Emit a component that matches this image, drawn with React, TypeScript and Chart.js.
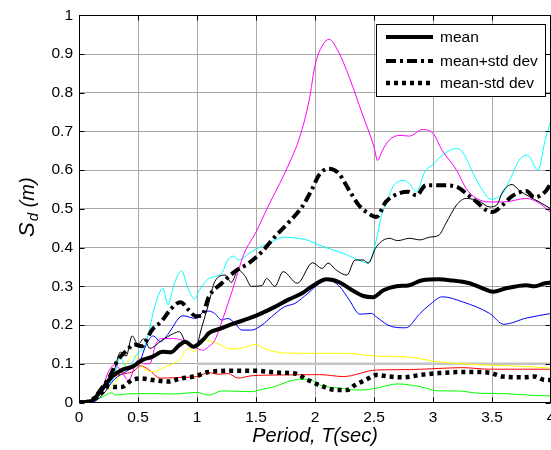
import { useEffect, useRef } from 'react';
import { Chart, registerables } from 'chart.js';

Chart.register(...registerables);

// Period (sec) / spectral displacement (m) pairs
const magentaRecord = [[0,0],[0.1,0.005],[0.2,0.04],[0.25,0.08],[0.3,0.097],[0.35,0.085],[0.42,0.057],[0.5,0.11],[0.55,0.1],[0.6,0.1],[0.65,0.15],[0.7,0.165],[0.8,0.165],[0.9,0.158],[1.0,0.14],[1.05,0.135],[1.1,0.145],[1.15,0.16],[1.2,0.2],[1.3,0.29],[1.4,0.385],[1.5,0.44],[1.6,0.505],[1.7,0.565],[1.77,0.61],[1.87,0.685],[1.95,0.78],[2.0,0.87],[2.05,0.915],[2.12,0.938],[2.2,0.905],[2.29,0.84],[2.4,0.746],[2.5,0.66],[2.53,0.625],[2.57,0.65],[2.63,0.678],[2.72,0.69],[2.8,0.688],[2.91,0.705],[3.0,0.695],[3.08,0.65],[3.2,0.6],[3.28,0.553],[3.37,0.527],[3.48,0.518],[3.6,0.518],[3.79,0.527],[3.9,0.515],[4.0,0.49]];
const cyanRecord = [[0,0],[0.1,0.005],[0.2,0.03],[0.3,0.07],[0.35,0.12],[0.38,0.1],[0.42,0.09],[0.48,0.12],[0.565,0.153],[0.65,0.256],[0.71,0.295],[0.755,0.252],[0.8,0.3],[0.87,0.34],[0.92,0.298],[0.98,0.267],[1.02,0.29],[1.1,0.32],[1.21,0.334],[1.26,0.368],[1.31,0.378],[1.35,0.368],[1.46,0.389],[1.63,0.415],[1.74,0.427],[1.83,0.425],[1.94,0.419],[2.04,0.406],[2.24,0.385],[2.41,0.363],[2.45,0.36],[2.52,0.42],[2.56,0.48],[2.61,0.52],[2.66,0.557],[2.75,0.574],[2.8,0.565],[2.86,0.544],[2.93,0.596],[3.0,0.615],[3.08,0.639],[3.2,0.656],[3.25,0.647],[3.34,0.592],[3.42,0.548],[3.49,0.525],[3.59,0.54],[3.65,0.574],[3.73,0.626],[3.8,0.639],[3.89,0.6],[3.95,0.677],[4.0,0.729]];
const blueRecord = [[0,0],[0.1,0.0],[0.2,0.02],[0.3,0.06],[0.42,0.084],[0.52,0.11],[0.57,0.15],[0.63,0.172],[0.69,0.157],[0.75,0.175],[0.88,0.224],[0.99,0.217],[1.06,0.235],[1.1,0.236],[1.15,0.23],[1.21,0.213],[1.26,0.217],[1.32,0.205],[1.38,0.187],[1.46,0.187],[1.55,0.2],[1.63,0.221],[1.74,0.247],[1.83,0.256],[1.94,0.282],[2.04,0.308],[2.11,0.316],[2.21,0.299],[2.29,0.265],[2.38,0.228],[2.48,0.23],[2.52,0.221],[2.65,0.196],[2.77,0.193],[2.89,0.23],[2.97,0.252],[3.08,0.273],[3.25,0.26],[3.48,0.23],[3.6,0.202],[3.79,0.218],[4.0,0.23]];
const blackRecord = [[0,0],[0.1,0.005],[0.2,0.04],[0.3,0.085],[0.35,0.13],[0.4,0.12],[0.45,0.172],[0.5,0.15],[0.55,0.165],[0.6,0.14],[0.7,0.16],[0.8,0.178],[0.85,0.183],[0.91,0.152],[0.99,0.145],[1.04,0.194],[1.1,0.256],[1.15,0.312],[1.24,0.329],[1.29,0.31],[1.35,0.342],[1.41,0.325],[1.46,0.3],[1.55,0.302],[1.59,0.32],[1.66,0.3],[1.73,0.338],[1.85,0.308],[1.98,0.361],[2.06,0.346],[2.11,0.36],[2.18,0.342],[2.27,0.329],[2.34,0.368],[2.41,0.368],[2.45,0.36],[2.52,0.402],[2.63,0.424],[2.7,0.418],[2.8,0.424],[2.89,0.42],[2.97,0.427],[3.05,0.432],[3.11,0.463],[3.2,0.51],[3.28,0.527],[3.39,0.52],[3.48,0.505],[3.54,0.51],[3.59,0.544],[3.67,0.563],[3.73,0.548],[3.82,0.531],[3.9,0.518],[4.0,0.5]];
const yellowRecord = [[0,0],[0.1,0.003],[0.2,0.02],[0.3,0.05],[0.35,0.07],[0.4,0.1],[0.46,0.12],[0.5,0.112],[0.565,0.084],[0.63,0.08],[0.73,0.092],[0.8,0.1],[0.85,0.11],[0.93,0.14],[0.98,0.131],[1.05,0.161],[1.15,0.155],[1.29,0.138],[1.41,0.143],[1.49,0.15],[1.58,0.138],[1.74,0.128],[2.04,0.127],[2.24,0.127],[2.52,0.12],[2.8,0.117],[3.05,0.105],[3.42,0.097],[3.7,0.094],[4.0,0.089]];
const redRecord = [[0,0],[0.1,0.003],[0.2,0.03],[0.3,0.067],[0.4,0.075],[0.46,0.08],[0.52,0.095],[0.59,0.085],[0.69,0.063],[0.8,0.064],[0.9,0.065],[1.0,0.067],[1.1,0.077],[1.18,0.073],[1.26,0.075],[1.35,0.063],[1.46,0.069],[1.7,0.071],[2.04,0.072],[2.24,0.067],[2.52,0.084],[2.8,0.085],[3.05,0.088],[3.25,0.09],[3.48,0.086],[4.0,0.086]];
const greenRecord = [[0,0],[0.1,0.002],[0.2,0.015],[0.28,0.025],[0.31,0.019],[0.4,0.022],[0.6,0.023],[0.8,0.022],[1.0,0.026],[1.1,0.019],[1.21,0.03],[1.46,0.028],[1.55,0.034],[1.66,0.041],[1.77,0.054],[1.89,0.06],[1.96,0.059],[2.04,0.045],[2.21,0.037],[2.38,0.032],[2.52,0.037],[2.7,0.048],[2.89,0.041],[3.05,0.03],[3.2,0.03],[3.39,0.024],[3.6,0.023],[3.86,0.018],[4.0,0.017]];
const grayRecord = [[1.0,0.1],[4.0,0.1]];
const meanValues = [[0,0],[0.1,0.003],[0.17,0.024],[0.28,0.067],[0.37,0.085],[0.45,0.092],[0.54,0.11],[0.62,0.118],[0.71,0.131],[0.78,0.13],[0.85,0.148],[0.9,0.157],[0.97,0.144],[1.06,0.165],[1.1,0.179],[1.21,0.192],[1.32,0.205],[1.44,0.217],[1.55,0.231],[1.66,0.247],[1.77,0.265],[1.89,0.282],[1.97,0.299],[2.1,0.318],[2.21,0.31],[2.32,0.289],[2.41,0.275],[2.49,0.272],[2.58,0.29],[2.69,0.3],[2.8,0.303],[2.91,0.316],[3.05,0.318],[3.14,0.316],[3.31,0.308],[3.42,0.295],[3.51,0.286],[3.62,0.295],[3.79,0.303],[3.86,0.3],[3.95,0.308],[4.0,0.31]];
const meanPlusStd = [[0,0],[0.1,0.005],[0.2,0.04],[0.26,0.067],[0.33,0.11],[0.4,0.133],[0.47,0.15],[0.53,0.145],[0.62,0.188],[0.7,0.21],[0.78,0.242],[0.86,0.259],[0.93,0.239],[0.99,0.223],[1.04,0.224],[1.1,0.273],[1.21,0.308],[1.32,0.338],[1.44,0.36],[1.55,0.389],[1.66,0.428],[1.77,0.463],[1.89,0.505],[1.97,0.548],[2.04,0.59],[2.12,0.604],[2.2,0.592],[2.29,0.548],[2.37,0.51],[2.45,0.489],[2.52,0.479],[2.6,0.518],[2.71,0.54],[2.79,0.544],[2.86,0.535],[2.94,0.561],[3.08,0.561],[3.2,0.557],[3.28,0.54],[3.37,0.518],[3.45,0.497],[3.5,0.492],[3.59,0.51],[3.67,0.533],[3.79,0.546],[3.86,0.53],[3.95,0.544],[4.0,0.566]];
const meanMinusStd = [[0,0],[0.1,0.003],[0.2,0.028],[0.25,0.042],[0.3,0.04],[0.36,0.04],[0.45,0.058],[0.52,0.062],[0.63,0.058],[0.76,0.054],[0.86,0.062],[0.99,0.068],[1.1,0.079],[1.32,0.082],[1.49,0.082],[1.7,0.077],[1.83,0.075],[1.94,0.058],[2.07,0.041],[2.18,0.032],[2.27,0.032],[2.34,0.045],[2.45,0.062],[2.52,0.071],[2.63,0.067],[2.75,0.065],[2.89,0.071],[3.05,0.076],[3.31,0.079],[3.48,0.077],[3.59,0.067],[3.76,0.065],[3.86,0.067],[3.95,0.058],[4.0,0.058]];

const legendLabels = ['mean', 'mean+std dev', 'mean-std dev'];
const xTitle = 'Period, T(sec)';
const yTitleMain = 'S';
const yTitleSub = 'd';
const yTitleUnit = ' (m)';

const FONT = '"Liberation Sans", Arial, Helvetica, sans-serif';

const toXY = (arr: number[][]) => arr.map(([x, y]) => ({ x, y }));
const fmtTick = (v: number | string) => String(Math.round(Number(v) * 10) / 10);

const framePlugin = {
  id: 'frame',
  afterDraw(chart: any) {
    const { ctx, chartArea: a, scales } = chart;
    ctx.save();
    ctx.strokeStyle = '#000';
    ctx.lineWidth = 1;
    const L = Math.round(a.left) + 0.5;
    const R = Math.round(a.right) - 0.5;
    const T = Math.round(a.top) + 0.5;
    const B = Math.round(a.bottom) - 0.5;
    ctx.strokeRect(L, T, R - L, B - T);
    const tl = 5;
    ctx.beginPath();
    scales.x.ticks.forEach((t: any) => {
      const px = Math.round(scales.x.getPixelForValue(t.value)) + 0.5;
      ctx.moveTo(px, B); ctx.lineTo(px, B - tl);
      ctx.moveTo(px, T); ctx.lineTo(px, T + tl);
    });
    scales.y.ticks.forEach((t: any) => {
      const py = Math.round(scales.y.getPixelForValue(t.value)) + 0.5;
      ctx.moveTo(L, py); ctx.lineTo(L + tl, py);
      ctx.moveTo(R, py); ctx.lineTo(R - tl, py);
    });
    ctx.stroke();

    // y axis title with subscript
    ctx.fillStyle = '#000';
    ctx.translate(34, 237);
    ctx.rotate(-Math.PI / 2);
    ctx.textBaseline = 'alphabetic';
    ctx.textAlign = 'left';
    ctx.font = `italic 22px ${FONT}`;
    ctx.fillText(yTitleMain, 0, 0);
    const w1 = ctx.measureText(yTitleMain).width;
    ctx.font = `italic 15px ${FONT}`;
    ctx.fillText(yTitleSub, w1 + 1, 4);
    const w2 = ctx.measureText(yTitleSub).width;
    ctx.font = `italic 20px ${FONT}`;
    ctx.fillText(yTitleUnit, w1 + w2 + 1, 0);
    ctx.restore();

    // legend box
    ctx.save();
    const bx = 376.5, by = 24.5, bw = 169, bh = 72;
    ctx.fillStyle = '#fff';
    ctx.fillRect(bx, by, bw, bh);
    ctx.strokeStyle = '#000';
    ctx.lineWidth = 1;
    ctx.strokeRect(bx, by, bw, bh);
    const rows = [37, 61, 83];
    legendLabels.forEach((label, i) => {
      const ds = chart.data.datasets[i];
      ctx.beginPath();
      ctx.strokeStyle = ds.borderColor;
      ctx.lineWidth = ds.borderWidth;
      ctx.setLineDash(ds.borderDash || []);
      ctx.moveTo(386, rows[i]);
      ctx.lineTo(433, rows[i]);
      ctx.stroke();
      ctx.setLineDash([]);
      ctx.fillStyle = '#000';
      ctx.font = `15.5px ${FONT}`;
      ctx.textBaseline = 'middle';
      ctx.textAlign = 'left';
      ctx.fillText(label, 440, rows[i] + 1);
    });
    ctx.restore();
  },
};

export default function App() {
  const ref = useRef<HTMLCanvasElement | null>(null);

  useEffect(() => {
    if (!ref.current) return;
    const thin = (data: number[][], color: string, width = 1) => ({
      data: toXY(data),
      borderColor: color,
      borderWidth: width,
      pointRadius: 0,
      cubicInterpolationMode: 'monotone' as const,
      fill: false,
    });
    const chart = new Chart(ref.current, {
      type: 'line',
      data: {
        datasets: [
          { label: legendLabels[0], ...thin(meanValues, '#000', 4) },
          { label: legendLabels[1], ...thin(meanPlusStd, '#000', 4), borderDash: [10, 4, 3, 4] },
          { label: legendLabels[2], ...thin(meanMinusStd, '#000', 4.5), borderDash: [4, 4] },
          { label: 'r1', ...thin(blackRecord, '#000') },
          { label: 'r2', ...thin(magentaRecord, '#ff00ff') },
          { label: 'r3', ...thin(cyanRecord, '#00ffff') },
          { label: 'r4', ...thin(blueRecord, '#0000ff') },
          { label: 'r5', ...thin(yellowRecord, '#ffff00') },
          { label: 'r6', ...thin(redRecord, '#ff0000') },
          { label: 'r7', ...thin(greenRecord, '#00ff00') },
          { label: 'r8', ...thin(grayRecord, '#c4c4c4', 2.5) },
        ],
      },
      options: {
        animation: false,
        responsive: false,
        events: [],
        layout: { padding: { left: 0, right: 29, top: 15, bottom: 0 } },
        plugins: { legend: { display: false }, tooltip: { enabled: false } },
        scales: {
          x: {
            type: 'linear',
            min: 0,
            max: 4,
            afterFit: (s: any) => { s.height = 47.5; },
            grid: { color: '#a8a8a8', lineWidth: 1, drawTicks: false },
            border: { display: false },
            ticks: { stepSize: 0.5, color: '#000', padding: 6, callback: fmtTick, font: { family: FONT, size: 15.5 } },
            title: {
              display: true,
              text: xTitle,
              color: '#000',
              padding: { top: 0, bottom: 2 },
              font: { family: FONT, size: 20, style: 'italic' },
            },
          },
          y: {
            type: 'linear',
            min: 0,
            max: 1,
            afterFit: (s: any) => { s.width = 79; },
            grid: { color: '#a8a8a8', lineWidth: 1, drawTicks: false },
            border: { display: false },
            ticks: { stepSize: 0.1, color: '#000', padding: 6, callback: fmtTick, font: { family: FONT, size: 15.5 } },
          },
        },
      },
      plugins: [framePlugin],
    });
    return () => chart.destroy();
  }, []);

  return (
    <div style={{ position: 'fixed', left: 0, top: 0, width: 551, height: 450, overflow: 'hidden', background: '#fff' }}>
      <canvas ref={ref} width={580} height={450} style={{ display: 'block' }} />
    </div>
  );
}
